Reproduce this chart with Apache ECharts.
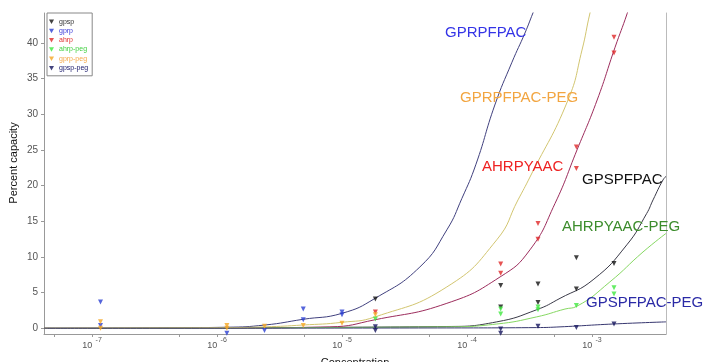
<!DOCTYPE html>
<html>
<head>
<meta charset="utf-8">
<script src="https://cdn.jsdelivr.net/npm/echarts@6/dist/echarts.min.js"></script>
<style>html,body{margin:0;padding:0;background:#fff}#c{width:704px;height:362px}</style>
</head>
<body>
<div id="c"></div>
<script>
// ---- data (concentration, percent capacity) ----
const xTickValues = [1e-7, 1e-6, 1e-5, 1e-4, 1e-3];
const xMinorTickValues = [5e-8, 1e-7, 5e-7, 1e-6, 5e-6, 1e-5, 5e-5, 1e-4, 5e-4, 1e-3, 5e-3];
const yTickValues = [0, 5, 10, 15, 20, 25, 30, 35, 40];

const gpspPts = [[1.85e-5,4.1],[1.86e-4,6.0],[1.86e-4,3.0],[3.7e-4,6.2],[3.7e-4,3.6],[7.5e-4,9.9],[7.5e-4,5.5],[1.5e-3,9.1]];
const gprpPts = [[1.17e-7,3.7],[1.17e-7,0.4],[1.2e-6,-0.7],[2.4e-6,-0.3],[4.9e-6,2.7],[4.9e-6,1.2],[1e-5,2.3],[1e-5,1.9]];
const ahrpPts = [[1.85e-5,2.3],[1.86e-4,9.0],[1.86e-4,7.7],[3.7e-4,14.7],[3.7e-4,12.5],[7.5e-4,25.4],[7.5e-4,22.4],[1.5e-3,40.8],[1.5e-3,38.6]];
const ahrpPegPts = [[1.85e-5,1.3],[1.86e-4,2.7],[1.86e-4,2.0],[3.7e-4,3.0],[3.7e-4,2.6],[7.5e-4,3.2],[1.5e-3,5.7],[1.5e-3,4.8]];
const gprpPegPts = [[1.17e-7,0.9],[1.17e-7,0.0],[1.2e-6,0.4],[1.2e-6,0.0],[2.4e-6,0.3],[4.9e-6,0.4],[1e-5,0.7],[1.85e-5,1.9]];
const gpspPegPts = [[1.85e-5,0.2],[1.85e-5,-0.3],[1.86e-4,-0.1],[1.86e-4,-0.7],[3.7e-4,0.3],[7.5e-4,0.1],[1.5e-3,0.6]];

const gprpFit = [[4.13e-8,0],[1.16e-7,0],[1.2e-6,0.15],[2.42e-6,0.46],[4.88e-6,1.26],[1e-5,2.1],[1.84e-5,4.2],[4.2e-5,8.6],[6.9e-5,13.8],[9.1e-5,18.2],[1.18e-4,23.0],[1.67e-4,31.3],[2.29e-4,37.3],[2.91e-4,41.4],[3.37e-4,44.2],[3.8e-4,46.5]];
const gprpPegFit = [[4.13e-8,0],[1.2e-6,0.1],[2.42e-6,0.2],[4.88e-6,0.46],[1e-5,0.84],[1.84e-5,1.6],[6.9e-5,5.8],[1.73e-4,12.4],[2.56e-4,18.0],[3.19e-4,21.2],[6.43e-4,32.0],[8.32e-4,39.0],[9.64e-4,44.2],[1.05e-3,46.5]];
const ahrpFit = [[4.13e-8,0],[1.2e-6,0.05],[8.0e-6,0.2],[1.84e-5,1.2],[6.9e-5,3.5],[1.84e-4,7.2],[3.19e-4,11.0],[5.06e-4,17.5],[7.59e-4,25.0],[1.1e-3,32.0],[1.53e-3,39.4],[1.91e-3,44.1],[2.1e-3,46.5]];
const gpspFit = [[4.13e-8,0],[6.9e-5,0.25],[1.73e-4,0.9],[3.61e-4,2.6],[5.55e-4,4.2],[1.02e-3,6.8],[1.9e-3,11.7],[2.74e-3,16.1],[3.08e-3,18.0],[3.7e-3,20.8],[3.91e-3,21.3]];
const ahrpPegFit = [[4.13e-8,0],[6.9e-5,0.2],[1.73e-4,0.6],[3.61e-4,1.6],[6.08e-4,2.7],[7.59e-4,3.1],[1.39e-3,6.5],[2.56e-3,10.7],[3.91e-3,13.3]];
const gpspPegFit = [[4.13e-8,0],[6.9e-5,0.05],[3.61e-4,0.1],[5.55e-4,0.2],[1.47e-3,0.6],[3.91e-3,0.9]];

const seriesNames = ['gpsp','gprp','ahrp','ahrp-peg','gprp-peg','gpsp-peg'];
const curveLabels = ['GPSPFPAC','GPRPFPAC','AHRPYAAC','AHRPYAAC-PEG','GPRPFPAC-PEG','GPSPFPAC-PEG'];

// ---- styles ----
const X_MIN = 4.13e-8, X_MAX = 3.91e-3, Y_MIN = -0.8, Y_MAX = 44.2;
const FONT = 'Liberation Sans, Arial, sans-serif';
const pointColors = ['#111111','#2a3fd2','#e02828','#3ee83e','#f5a623','#15155e'];
const legendTextColors = ['#333333','#3a3ad8','#e03030','#40d040','#f5a84a','#202070'];
const fitColors = ['#3a3a48','#40407e','#9c2c5c','#86d862','#d2c570','#383870'];
const labelColors = ['#111111','#3434e6','#ee2222','#3c8c2c','#f2a540','#2a2aa6'];
const labelPos = [[582,180],[445,33],[482,167],[562,227],[460,98],[586,303]];

const pts = [gpspPts, gprpPts, ahrpPts, ahrpPegPts, gprpPegPts, gpspPegPts];
const fits = [gpspFit, gprpFit, ahrpFit, ahrpPegFit, gprpPegFit, gpspPegFit];
const TRI = 'path://M0,0L10,0L5,9Z';

const series = [];
fits.forEach((f, i) => {
  series.push({
    name: seriesNames[i] + ' fit', type: 'line', data: f, showSymbol: false, symbol: 'none',
    smooth: 0.5, z: 2, silent: true,
    lineStyle: { color: fitColors[i], width: 1 }
  });
});
pts.forEach((p, i) => {
  series.push({
    name: seriesNames[i], type: 'scatter', data: p, symbol: TRI, symbolSize: [5, 5], z: 5,
    itemStyle: { color: pointColors[i] }
  });
});

const graphics = curveLabels.map((t, i) => ({
  type: 'text', x: labelPos[i][0], y: labelPos[i][1], z: 10,
  style: { text: t, fill: labelColors[i], font: '15px ' + FONT, verticalAlign: 'middle', align: 'left' }
}));
graphics.push({
  type: 'text', x: 14, y: 163, rotation: Math.PI / 2, z: 10,
  style: { text: 'Percent capacity', fill: '#111', font: '11px ' + FONT, align: 'center', verticalAlign: 'middle' }
});

const chart = echarts.init(document.getElementById('c'), null, { renderer: 'canvas' });
chart.setOption({
  animation: false,
  backgroundColor: '#ffffff',
  textStyle: { fontFamily: FONT },
  grid: { left: 44, right: 38, top: 13, bottom: 28, containLabel: false, outerBoundsMode: 'none' },
  legend: {
    orient: 'vertical', left: 47, top: 13,
    data: seriesNames.map((n, i) => ({ name: n, icon: TRI, textStyle: { color: legendTextColors[i] } })),
    itemWidth: 5, itemHeight: 5, itemGap: 0,
    padding: [4, 4, 3, 2],
    borderColor: '#888', borderWidth: 1, backgroundColor: '#fff',
    textStyle: { fontSize: 7, lineHeight: 9.3, fontFamily: FONT },
    selectedMode: false
  },
  xAxis: {
    type: 'log', logBase: 10, min: X_MIN, max: X_MAX,
    name: 'Concentration', nameLocation: 'middle', nameGap: 23,
    nameTextStyle: { fontSize: 11, color: '#111', fontFamily: FONT },
    axisLine: { onZero: false, lineStyle: { color: '#999', width: 1 } },
    axisTick: { show: true, length: 3, customValues: xMinorTickValues, lineStyle: { color: '#999' } },
    axisLabel: {
      customValues: xTickValues, margin: 3, color: '#555',
      formatter: v => '{b|10} {s|' + Math.round(Math.log10(v)) + '}',
      rich: {
        b: { fontSize: 9, color: '#555', fontFamily: FONT, lineHeight: 13, verticalAlign: 'bottom' },
        s: { fontSize: 7, color: '#555', fontFamily: FONT, lineHeight: 13, verticalAlign: 'top' }
      }
    },
    splitLine: { show: false }, minorTick: { show: false }
  },
  yAxis: [{
    type: 'value', min: Y_MIN, max: Y_MAX, position: 'left',
    axisLine: { show: true, onZero: false, lineStyle: { color: '#999', width: 1 } },
    axisTick: { show: true, length: 3, customValues: yTickValues, lineStyle: { color: '#999' } },
    axisLabel: { customValues: yTickValues, fontSize: 10, color: '#555', margin: 6 },
    splitLine: { show: false }
  }, {
    type: 'value', min: Y_MIN, max: Y_MAX, position: 'right',
    axisLine: { show: true, onZero: false, lineStyle: { color: '#bbb', width: 1 } },
    axisTick: { show: false }, axisLabel: { show: false }, splitLine: { show: false }
  }],
  series: series,
  graphic: graphics
});
</script>
</body>
</html>
